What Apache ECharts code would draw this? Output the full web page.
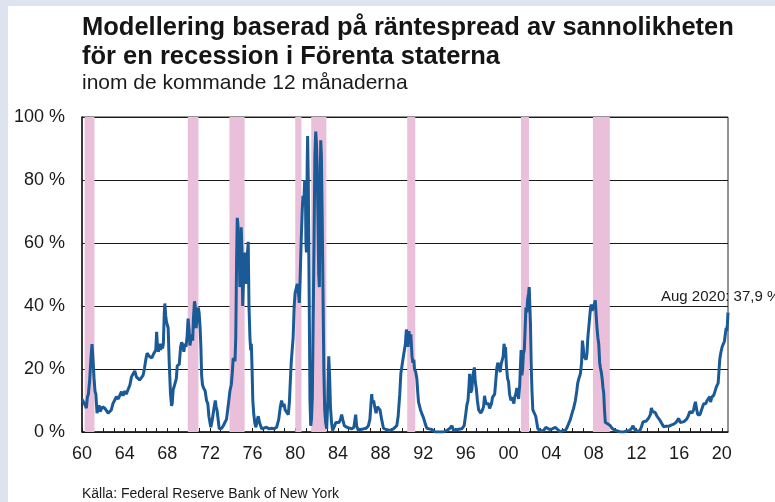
<!DOCTYPE html>
<html>
<head>
<meta charset="utf-8">
<script src="https://cdn.jsdelivr.net/npm/echarts@6/dist/echarts.min.js"></script>
<style>
html,body{margin:0;padding:0;background:#fff;}
#chart{width:775px;height:502px;}
</style>
</head>
<body>
<div id="chart"></div>
<script>
const titleLines = ['Modellering baserad på räntespread av sannolikheten', 'för en recession i Förenta staterna'];
const subtitle = 'inom de kommande 12 månaderna';
const sourceText = 'Källa: Federal Reserve Bank of New York';
const annotationLabel = 'Aug 2020';

const yTicks = [0, 20, 40, 60, 80, 100];

const recessionStart = [1960.25, 1969.92, 1973.83, 1980.00, 1981.50, 1990.50, 2001.17, 2007.92];
const recessionEnd   = [1961.17, 1970.92, 1975.25, 1980.58, 1982.92, 1991.25, 2001.92, 2009.50];

const years = [
1960.00,1960.15,1960.30,1960.41,1960.50,1960.60,1960.72,1960.85,1960.94,1961.05,1961.13,1961.22,1961.30,1961.41,1961.50,1961.60,1961.70,1961.80,1961.92,
1962.03,1962.15,1962.30,1962.45,1962.60,1962.75,1962.90,1963.05,1963.23,1963.40,1963.55,1963.70,1963.85,1964.01,1964.15,1964.33,1964.50,1964.64,1964.80,1964.95,
1965.10,1965.25,1965.40,1965.55,1965.73,1965.85,1965.98,1966.10,1966.20,1966.32,1966.42,1966.55,1966.67,1966.80,1966.92,1967.00,1967.08,1967.17,1967.30,1967.38,
1967.45,1967.55,1967.63,1967.72,1967.77,1967.85,1967.92,1968.00,1968.08,1968.18,1968.30,1968.40,1968.46,1968.55,1968.65,1968.75,1968.85,1968.93,1969.02,1969.12,
1969.25,1969.35,1969.45,1969.55,1969.65,1969.75,1969.85,1969.95,1970.05,1970.12,1970.22,1970.30,1970.38,1970.45,1970.55,1970.62,1970.70,1970.80,1970.90,1970.98,
1971.08,1971.15,1971.22,1971.30,1971.40,1971.55,1971.68,1971.80,1971.90,1972.00,1972.08,1972.20,1972.30,1972.40,1972.50,1972.58,1972.66,1972.75,1972.87,1972.95,
1973.10,1973.25,1973.40,1973.55,1973.70,1973.87,1974.00,1974.10,1974.18,1974.28,1974.35,1974.42,1974.50,1974.56,1974.62,1974.68,1974.74,1974.80,1974.87,1974.93,
1975.00,1975.07,1975.12,1975.20,1975.27,1975.35,1975.42,1975.50,1975.59,1975.66,1975.75,1975.82,1975.88,1975.95,1976.02,1976.10,1976.20,1976.31,1976.45,1976.53,
1976.65,1976.85,1977.00,1977.30,1977.55,1977.78,1978.00,1978.25,1978.45,1978.60,1978.72,1978.85,1978.95,1979.05,1979.20,1979.35,1979.45,1979.55,1979.62,1979.72,
1979.80,1979.90,1979.98,1980.08,1980.19,1980.28,1980.38,1980.45,1980.55,1980.65,1980.72,1980.80,1980.88,1980.95,1981.00,1981.05,1981.12,1981.16,1981.22,1981.30,
1981.38,1981.45,1981.52,1981.60,1981.68,1981.76,1981.84,1981.92,1981.98,1982.05,1982.12,1982.20,1982.26,1982.32,1982.39,1982.45,1982.52,1982.60,1982.68,1982.76,
1982.85,1982.95,1983.05,1983.14,1983.22,1983.30,1983.40,1983.50,1983.60,1983.70,1983.80,1983.95,1984.10,1984.25,1984.35,1984.45,1984.60,1984.83,1985.00,1985.30,
1985.50,1985.60,1985.67,1985.75,1985.92,1986.15,1986.40,1986.65,1986.86,1987.00,1987.10,1987.17,1987.25,1987.35,1987.45,1987.58,1987.70,1987.82,1987.95,1988.02,
1988.10,1988.27,1988.50,1988.90,1989.20,1989.52,1989.65,1989.80,1989.90,1990.05,1990.21,1990.33,1990.42,1990.50,1990.58,1990.66,1990.75,1990.84,1990.95,1991.03,
1991.12,1991.18,1991.30,1991.40,1991.48,1991.56,1991.65,1991.75,1991.85,1992.03,1992.20,1992.34,1992.55,1992.80,1993.12,1993.50,1993.90,1994.22,1994.45,1994.69,
1994.85,1995.20,1995.62,1995.84,1996.00,1996.09,1996.20,1996.30,1996.35,1996.45,1996.56,1996.66,1996.72,1996.80,1996.88,1996.97,1997.08,1997.20,1997.28,1997.40,
1997.55,1997.66,1997.75,1997.82,1997.90,1998.00,1998.13,1998.22,1998.30,1998.40,1998.50,1998.60,1998.70,1998.80,1998.91,1999.00,1999.07,1999.15,1999.22,1999.30,
1999.40,1999.50,1999.58,1999.65,1999.72,1999.80,1999.91,2000.00,2000.10,2000.23,2000.32,2000.41,2000.50,2000.58,2000.68,2000.78,2000.85,2000.95,2001.05,2001.12,
2001.18,2001.25,2001.32,2001.40,2001.48,2001.55,2001.63,2001.72,2001.79,2001.88,2001.94,2002.00,2002.06,2002.12,2002.20,2002.28,2002.35,2002.45,2002.55,2002.65,
2002.75,2002.90,2003.10,2003.30,2003.50,2003.67,2003.85,2004.10,2004.39,2004.60,2004.86,2005.10,2005.33,2005.50,2005.64,2005.80,2005.96,2006.10,2006.27,2006.40,
2006.49,2006.60,2006.74,2006.85,2006.93,2007.00,2007.08,2007.20,2007.28,2007.36,2007.44,2007.52,2007.60,2007.68,2007.76,2007.84,2007.92,2008.00,2008.08,2008.14,
2008.22,2008.30,2008.38,2008.46,2008.55,2008.61,2008.70,2008.78,2008.86,2008.93,2009.00,2009.08,2009.20,2009.35,2009.55,2009.70,2009.87,2010.02,2010.25,2010.50,
2010.80,2011.12,2011.35,2011.55,2011.68,2011.80,2012.00,2012.30,2012.45,2012.61,2012.75,2012.93,2013.15,2013.30,2013.40,2013.50,2013.62,2013.75,2013.93,2014.10,
2014.24,2014.40,2014.55,2014.75,2015.02,2015.25,2015.49,2015.70,2015.85,2015.96,2016.10,2016.28,2016.45,2016.68,2016.85,2017.00,2017.06,2017.20,2017.35,2017.45,
2017.53,2017.65,2017.75,2017.84,2017.95,2018.06,2018.20,2018.30,2018.37,2018.50,2018.62,2018.75,2018.87,2018.95,2019.05,2019.15,2019.25,2019.35,2019.50,2019.58,
2019.66,2019.75,2019.81,2019.90,2020.03,2020.15,2020.25,2020.33,2020.41,2020.46,2020.52,2020.583
];

const probs = [
10.4,11,8.5,7.6,11,12,16.5,24,27.9,22,17,13,12,6,7.5,8.5,6.5,7,8,
8.3,7.5,7,6,5.5,7,9,10,11.2,10.5,11,12.8,11.5,13,12,12.5,15,17.5,18.5,19.4,
17.5,17,16.5,17,18,20,22.9,25,25.5,24,23.5,23.5,24.5,24,26,31.8,27,25.5,28,26,
28,26.5,28,38,40.8,37,35,35.5,33,22,12,8.3,9,13.5,14.5,14,17,21,21,21.5,
27,28.5,27.5,25.5,28,27,30,36,32,27.5,27,31,29,36,41.5,40,33,36,39.5,38,
33,27,18,15,14,13,10,9,5,3,1.5,3.5,3,8,10,8,7,4.5,1,0.5,
1.2,2,3,4,8,13,15,19,23.5,24,22.5,30,55,68,66,57,62,46,50,65,
58,40,45,55,57,47,53,56,60.4,40,30,26,28,20,10,6,3,1.5,4,5,
3,1,1,1.5,1,1.2,1,1.5,4,8,10,8,9,7,6.5,5.5,9.5,17,22,22.5,
30,40,44,44,47,45,41,48,60,70,75,72,80,78,60,57,85,94,80,45,
10,2,4,11,35,60,88,95.4,92,85,70,50,46,75,92.6,88,70,45,20,7,
3,1,10,24,18,8,3,0.5,0,2,3,2.5,3,4,5.5,4,2,1.5,1,1,
1.5,4,5.5,2,0.5,0.8,1,1.2,2,4,9,12,9,10,8,6,8,7.5,7,7.5,
4,1.2,0.8,0.5,1,2,5,12,18.5,22,25.5,28,32.5,31,27,32,29,31,24,22,
23,20,19,17,13,9.5,10,7,6,4.5,2.5,1.2,1,0.8,0,0,0,0.5,1,2,
0.5,0.8,1,2,6,8.5,10,15,18.5,12.5,13.5,18,19,20.5,16,14,10,7,6.5,6,
7,8,11.5,10,9,8.5,9,7.5,7,9,11,11.5,12,16,20.5,22,22.5,20,19,21.5,
22,24,28,26,27,21,17,16,12,10,11,10.5,9,11,12,14,12.5,10.5,15,21,
26,18,20,25,26,32,39.5,38,42,44,46,40,34,22,13,7,6.5,7,5,3,
1,0.5,0.3,0.5,1.5,2,0.8,1,1.5,0.8,0,0.5,0.5,1.5,2,4,6,7.5,10,13,
15.5,17,18.5,22,29,27,24,24,23,25,30,33,36,39,40.5,38.5,38,40,41,41.8,
37,33,30,28,22,20.5,19,17,14,12.3,7,3,3,2.5,2,1.2,0.8,0.5,0.3,0,
0,0.3,0.5,1.2,2,1,0.3,0.3,1.5,3.2,3,3.5,4.5,5.5,7.6,6.5,6,6.2,5,4.5,
3.5,2.5,1.7,1.8,1.8,2.2,2.5,3,3.5,4.3,3,3,3.3,4,5,6.5,7,6,7,8.5,
9.6,7,5.5,5,5.5,6,8,9,9.6,9,10,10.5,11.2,9.5,11,10.5,11.7,12,14.4,15,
15.5,20,23,25,27,28,28.8,31,33,32,34,37.9
];

const seriesData = years.map((y, i) => [y, probs[i]]);
const lastIdx = years.length - 1;
const bands = recessionStart.map((s, i) => [{ xAxis: s }, { xAxis: recessionEnd[i] }]);

const FONT = '"Liberation Sans", Arial, Helvetica, sans-serif';
const chart = echarts.init(document.getElementById('chart'), null, { renderer: 'canvas' });

chart.setOption({
  backgroundColor: '#ffffff',
  animation: false,
  textStyle: { fontFamily: FONT },
  grid: { left: 82, right: 47, top: 117, bottom: 70, show: true, borderColor: '#2a2a2a', borderWidth: 1, backgroundColor: 'transparent' },
  graphic: [
    { type: 'rect', z: 0, shape: { x: 0, y: 0, width: 775, height: 6 }, style: { fill: '#dde4ef' } },
    { type: 'rect', z: 0, shape: { x: 0, y: 0, width: 8, height: 502 }, style: { fill: '#dde4ef' } },
    { type: 'text', left: 82, top: 15, style: { text: titleLines[0], font: 'bold 25.5px ' + FONT, fill: '#151515' } },
    { type: 'text', left: 82, top: 44, style: { text: titleLines[1], font: 'bold 25.5px ' + FONT, fill: '#151515' } },
    { type: 'text', left: 82, top: 73, style: { text: subtitle, font: '21px ' + FONT, fill: '#1a1a1a' } },
    { type: 'text', left: 82, top: 487, style: { text: sourceText, font: '14px ' + FONT, fill: '#1a1a1a' } }
  ],
  xAxis: {
    type: 'value',
    min: years[0],
    max: years[lastIdx],
    interval: 1,
    splitLine: { show: false },
    axisLine: { show: true, onZero: false, lineStyle: { color: '#1a1a1a', width: 1.5 } },
    axisTick: { show: true, inside: true, length: 4, lineStyle: { color: '#1a1a1a', width: 1 } },
    axisLabel: {
      show: true, margin: 13, color: '#1a1a1a', fontSize: 18, fontFamily: FONT,
      showMaxLabel: false,
      formatter: v => (Math.abs(v - Math.round(v)) < 1e-6 && Math.round(v) % 4 === 0) ? String(Math.round(v)).slice(2) : ''
    }
  },
  yAxis: {
    type: 'value',
    min: 0, max: 100, interval: 20,
    axisLine: { show: true, lineStyle: { color: '#1a1a1a', width: 1.5 } },
    axisTick: { show: false },
    splitLine: { show: true, lineStyle: { color: '#1a1a1a', width: 1 } },
    axisLabel: { margin: 17, color: '#1a1a1a', fontSize: 18, fontFamily: FONT, formatter: v => yTicks.includes(v) ? v + ' %' : '' }
  },
  series: [{
    type: 'line',
    data: seriesData,
    showSymbol: false,
    symbol: 'none',
    lineStyle: { color: '#1a5a96', width: 3 },
    z: 3,
    markArea: {
      silent: true,
      itemStyle: { color: '#e9bfd9', opacity: 1 },
      data: bands
    },
    markPoint: {
      symbol: 'circle',
      symbolSize: 0,
      silent: true,
      data: [{ coord: seriesData[lastIdx] }],
      label: {
        show: true,
        position: [-67, -16],
        align: 'left',
        verticalAlign: 'middle',
        color: '#1a1a1a',
        fontSize: 15,
        fontFamily: FONT,
        formatter: () => annotationLabel + ': ' + String(probs[lastIdx]).replace('.', ',') + ' %'
      }
    }
  }]
});
</script>
</body>
</html>
